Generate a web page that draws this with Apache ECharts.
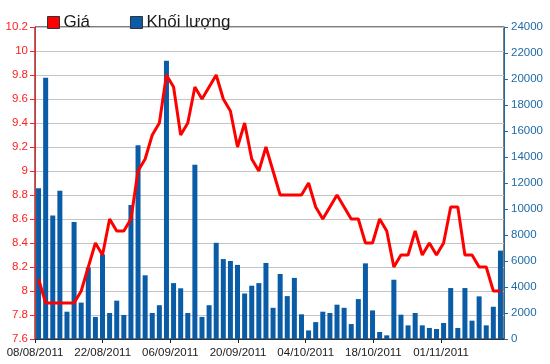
<!DOCTYPE html>
<html>
<head>
<meta charset="utf-8">
<script src="https://cdn.jsdelivr.net/npm/echarts@6/dist/echarts.min.js"></script>
<style>
html,body{margin:0;padding:0;background:#fff;}
#c{width:550px;height:364px;}
</style>
</head>
<body>
<div id="c"></div>
<script>
// Trading days (categories)
var dates = [
 '08/08/2011','09/08/2011','10/08/2011','11/08/2011','12/08/2011','15/08/2011','16/08/2011','17/08/2011','18/08/2011','19/08/2011',
 '22/08/2011','23/08/2011','24/08/2011','25/08/2011','26/08/2011','29/08/2011','30/08/2011','31/08/2011','01/09/2011','05/09/2011',
 '06/09/2011','07/09/2011','08/09/2011','09/09/2011','12/09/2011','13/09/2011','14/09/2011','15/09/2011','16/09/2011','19/09/2011',
 '20/09/2011','21/09/2011','22/09/2011','23/09/2011','26/09/2011','27/09/2011','28/09/2011','29/09/2011','30/09/2011','03/10/2011',
 '04/10/2011','05/10/2011','06/10/2011','07/10/2011','10/10/2011','11/10/2011','12/10/2011','13/10/2011','14/10/2011','17/10/2011',
 '18/10/2011','19/10/2011','20/10/2011','21/10/2011','24/10/2011','25/10/2011','26/10/2011','27/10/2011','28/10/2011','31/10/2011',
 '01/11/2011','02/11/2011','03/11/2011','04/11/2011','07/11/2011','08/11/2011'
];
// Price (Giá)
var prices = [
 8.1,7.9,7.9,7.9,7.9,7.9,8.0,8.2,8.4,8.3,
 8.6,8.5,8.5,8.6,9.0,9.1,9.3,9.4,9.8,9.7,
 9.3,9.4,9.7,9.6,9.7,9.8,9.6,9.5,9.2,9.4,
 9.1,9.0,9.2,9.0,8.8,8.8,8.8,8.8,8.9,8.7,
 8.6,8.7,8.8,8.7,8.6,8.6,8.4,8.4,8.6,8.5,
 8.2,8.3,8.3,8.5,8.3,8.4,8.3,8.4,8.7,8.7,
 8.3,8.3,8.2,8.2,8.0,8.0
];
// Volume (Khối lượng)
var volumes = [
 11600,20100,9500,11400,2100,9000,2800,5500,1700,6500,
 2000,2950,1850,10300,14900,4900,2000,2600,21400,4300,
 3900,2000,13400,1700,2600,7400,6150,6000,5700,3500,
 4100,4300,5850,2400,5000,3300,4700,1900,660,1300,
 2100,2000,2640,2400,1150,3070,5820,2200,540,280,
 4560,1870,1050,2000,1050,850,770,1230,3920,850,
 3920,1410,3280,1050,2480,6800
];
// Tick labels on the date axis
var tickLabels = ['08/08/2011','22/08/2011','06/09/2011','20/09/2011','04/10/2011','18/10/2011','01/11/2011'];
var tickIdx = [0,1,2,3,4,5,6];
var labelSpan = 6.93;

var FONT = '"Liberation Sans", Arial, sans-serif';
var chart = echarts.init(document.getElementById('c'), null, {renderer:'canvas'});
chart.setOption({
  animation:false,
  backgroundColor:'#fff',
  textStyle:{fontFamily:FONT},
  legend:{
    left:42, top:9, icon:'rect', itemWidth:12, itemHeight:12, itemGap:40,
    itemStyle:{borderColor:'#333', borderWidth:1},
    textStyle:{fontSize:17, color:'#1a1a1a', fontFamily:FONT, padding:[0,0,0,-1]},
    data:['Giá','Khối lượng']
  },
  grid:{left:35, right:46, top:27, bottom:25, show:true, borderColor:'#000', borderWidth:1, backgroundColor:'transparent'},
  xAxis:[
    {type:'category', data:dates, boundaryGap:true,
     axisLine:{show:true, lineStyle:{color:'#333', width:1}},
     axisTick:{show:false}, axisLabel:{show:false}, splitLine:{show:false}},
    {type:'value', min:0, max:labelSpan, interval:1, position:'bottom',
     axisLine:{show:false},
     axisTick:{show:true, length:4, lineStyle:{color:'#222'}, customValues:tickIdx},
     axisLabel:{show:true, margin:8, fontSize:11.5, color:'#1a1a1a', fontFamily:FONT, customValues:tickIdx,
       hideOverlap:false,
       formatter:function(v){ var i=Math.round(v); return (Math.abs(v-i)<1e-6 && tickLabels[i])? tickLabels[i] : ''; }},
     splitLine:{show:false}}
  ],
  yAxis:[
    {type:'value', min:7.6, max:10.2, interval:0.2, position:'left',
     axisLine:{show:true, lineStyle:{color:'#ff2020', width:1}},
     axisTick:{show:true, length:5, lineStyle:{color:'#ff2020'}},
     axisLabel:{margin:7, fontSize:11.5, color:'#ff2020', fontFamily:FONT,
       formatter:function(v){ return String(Math.round(v*10)/10); }},
     splitLine:{show:true, lineStyle:{color:'#c4c4c4', width:1}}},
    {type:'value', min:0, max:24000, interval:2000, position:'right',
     axisLine:{show:true, lineStyle:{color:'#1f6aa5', width:1}},
     axisTick:{show:true, length:4, lineStyle:{color:'#1f6aa5'}},
     axisLabel:{margin:7, fontSize:11.5, color:'#1f6aa5', fontFamily:FONT,
       formatter:function(v){ return String(Math.round(v)); }},
     splitLine:{show:false}}
  ],
  series:[
    {name:'Khối lượng', type:'bar', xAxisIndex:0, yAxisIndex:1, data:volumes, barWidth:5,
     itemStyle:{color:'#0b5ca6'}, z:2},
    {name:'Giá', type:'line', xAxisIndex:0, yAxisIndex:0, data:prices, symbol:'none',
     lineStyle:{color:'#ff0000', width:3}, itemStyle:{color:'#ff0000'}, z:5}
  ]
});
</script>
</body>
</html>
